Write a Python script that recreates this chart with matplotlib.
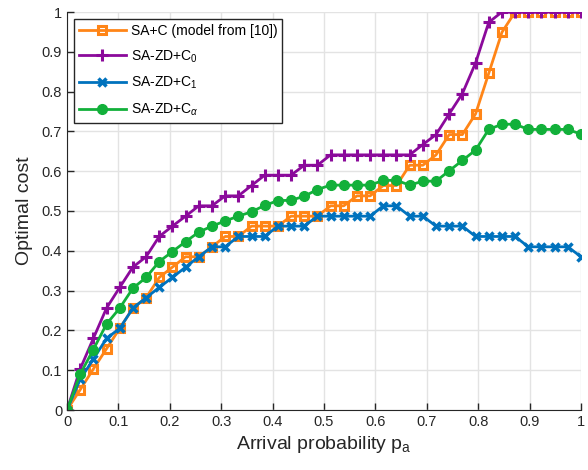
import numpy as np
import matplotlib
matplotlib.use('Agg')
import matplotlib.pyplot as plt

plt.rcParams['font.family'] = ['Liberation Sans', 'DejaVu Sans']
plt.rcParams['mathtext.fontset'] = 'custom'
plt.rcParams['mathtext.rm'] = 'Liberation Sans'
plt.rcParams['mathtext.it'] = 'Liberation Sans:italic'

# arrival probability, 40 points from 0 to 1
p_a = np.linspace(0, 1, 40)

sa_c = [0, 0.051, 0.103, 0.154, 0.205, 0.256, 0.282, 0.333, 0.359, 0.385,
        0.385, 0.410, 0.436, 0.436, 0.462, 0.462, 0.462, 0.487, 0.487, 0.487,
        0.513, 0.513, 0.538, 0.538, 0.564, 0.564, 0.615, 0.615, 0.641, 0.692,
        0.692, 0.744, 0.846, 0.949, 1.0, 1.0, 1.0, 1.0, 1.0, 1.0]

sa_zd_c0 = [0, 0.103, 0.180, 0.256, 0.308, 0.359, 0.385, 0.436, 0.462, 0.487,
            0.513, 0.513, 0.538, 0.538, 0.564, 0.590, 0.590, 0.590, 0.615, 0.615,
            0.641, 0.641, 0.641, 0.641, 0.641, 0.641, 0.641, 0.667, 0.692, 0.744,
            0.795, 0.872, 0.974, 1.0, 1.0, 1.0, 1.0, 1.0, 1.0, 1.0]

sa_zd_c1 = [0, 0.077, 0.128, 0.180, 0.205, 0.256, 0.282, 0.308, 0.333, 0.359,
            0.385, 0.410, 0.410, 0.436, 0.436, 0.436, 0.462, 0.462, 0.462, 0.487,
            0.487, 0.487, 0.487, 0.487, 0.513, 0.513, 0.487, 0.487, 0.462, 0.462,
            0.462, 0.436, 0.436, 0.436, 0.436, 0.410, 0.410, 0.410, 0.410, 0.385]

sa_zd_ca = [0, 0.090, 0.152, 0.216, 0.256, 0.306, 0.333, 0.373, 0.398, 0.423,
            0.447, 0.462, 0.475, 0.487, 0.498, 0.514, 0.526, 0.527, 0.537, 0.554,
            0.565, 0.565, 0.565, 0.565, 0.577, 0.577, 0.565, 0.575, 0.575, 0.601,
            0.627, 0.653, 0.705, 0.718, 0.718, 0.705, 0.705, 0.705, 0.705, 0.693]

fig = plt.figure(figsize=(5.88, 4.70), dpi=100)
ax = fig.add_axes([67/588, 60/470, 514/588, 398/470])

ax.plot(p_a, sa_c, '-s', color='#ff8517', lw=2, ms=6, mfc='none', mew=2.2,
        label='SA+C (model from [10])')
ax.plot(p_a, sa_zd_c0, '-+', color='#8b0a9b', lw=2, ms=9, mew=2.2,
        label='SA-ZD+C$_\\mathregular{0}$')
ax.plot(p_a, sa_zd_c1, '-x', color='#0072bd', lw=2, ms=6, mew=2.5,
        label='SA-ZD+C$_\\mathregular{1}$')
ax.plot(p_a, sa_zd_ca, '-o', color='#12b03a', lw=2, ms=7,
        label='SA-ZD+C$_\\alpha$')

ax.set_xlim(0, 1)
ax.set_ylim(0, 1)
ticks = np.arange(0, 1.01, 0.1)
labels = ['0'] + ['%.1f' % t for t in ticks[1:-1]] + ['1']
ax.set_xticks(ticks)
ax.set_xticklabels(labels)
ax.set_yticks(ticks)
ax.set_yticklabels(labels)
ax.tick_params(direction='in', length=5, width=1, colors='#262626', labelsize=10.5)
ax.grid(True, color='#e3e3e3', lw=1)
ax.set_axisbelow(True)
for s in ['top', 'right']:
    ax.spines[s].set_visible(False)
for s in ['left', 'bottom']:
    ax.spines[s].set_color('#262626')

ax.set_xlabel('Arrival probability p$_\\mathregular{a}$', fontsize=14, color='#262626')
ax.set_ylabel('Optimal cost', fontsize=14, color='#262626', labelpad=6)

leg = ax.legend(loc='upper left', fontsize=10, numpoints=1, handlelength=3.4,
                handletextpad=0.35, borderpad=0.35, labelspacing=0.75,
                fancybox=False, framealpha=1, borderaxespad=0.5)
leg.get_frame().set_edgecolor('#262626')
leg.get_frame().set_linewidth(1)

fig.savefig('out.png', dpi=100)
